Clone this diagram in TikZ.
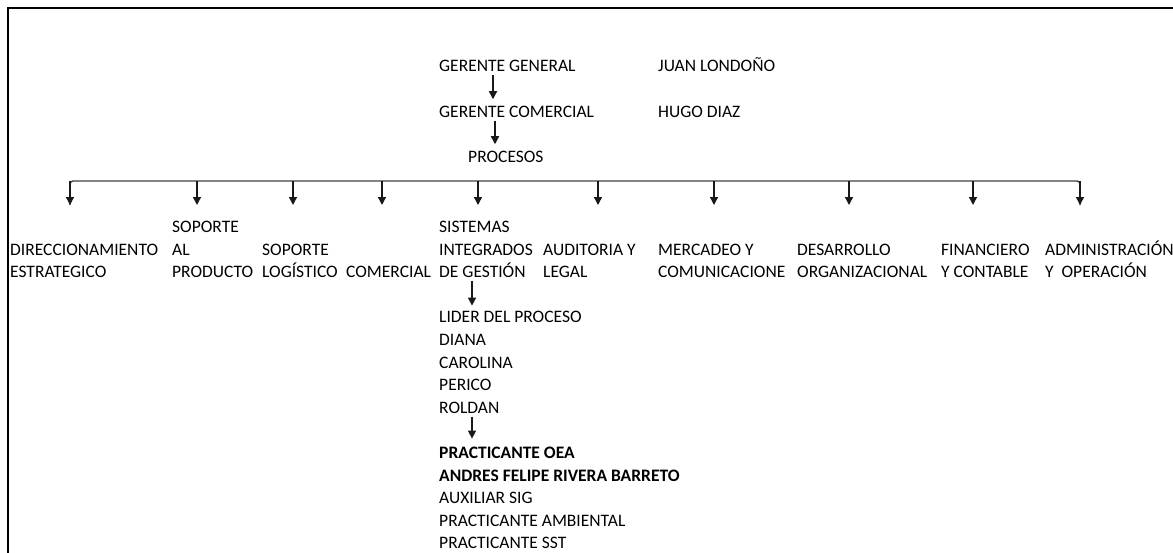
\documentclass[tikz,border=0pt]{standalone}
\usepackage{fontspec}
\setmainfont{Carlito}
\usetikzlibrary{arrows.meta}
\begin{document}
\begin{tikzpicture}[x=1pt,y=-1pt,
  lbl/.style={anchor=base west, inner xsep=0pt, inner ysep=3pt,
    font=\fontsize{17.5}{21}\selectfont, text=black},
  boldlbl/.style={lbl, font=\fontsize{17.5}{21}\selectfont\bfseries},
  arr/.style={draw=black!90, line width=1.4pt, -{Triangle[length=8pt,width=8pt]}},
  barline/.style={draw=black!75, line width=1.4pt},
  frame/.style={draw=black, line width=2.2pt}]
\useasboundingbox (0,0) rectangle (1173,552);
\draw[frame] (8,560) -- (8,8) -- (1180,8);

% top chain
\node[lbl] (gg) at (439,71.7) {GERENTE GENERAL};
\node[lbl] (jl) at (658,71.7) {JUAN LONDOÑO};
\node[lbl] (gc) at (439,117.3) {GERENTE COMERCIAL};
\node[lbl] (hd) at (658,117.3) {HUGO DIAZ};
\node[lbl] (pr) at (468,162.3) {PROCESOS};
\coordinate (v1) at (493,0);
\coordinate (v2) at (495,0);
\draw[arr, shorten >=3.5pt] (gg.south -| v1) -- (gc.north -| v1);
\draw[arr, shorten >=3.5pt] (gc.south -| v2) -- (pr.north -| v2);

% bar and arrows
\coordinate (b1) at (70,181);  \coordinate (e1) at (70,205);
\coordinate (b2) at (197,181); \coordinate (e2) at (197,205);
\coordinate (b3) at (293,181); \coordinate (e3) at (293,205);
\coordinate (b4) at (382,181); \coordinate (e4) at (382,205);
\coordinate (b5) at (478,181); \coordinate (e5) at (478,205);
\coordinate (b6) at (598,181); \coordinate (e6) at (598,205);
\coordinate (b7) at (714,181); \coordinate (e7) at (714,205);
\coordinate (b8) at (849,181); \coordinate (e8) at (849,205);
\coordinate (b9) at (973,181); \coordinate (e9) at (973,205);
\coordinate (b10) at (1080,181); \coordinate (e10) at (1080,205);
\draw[barline, rounded corners=3pt] (e1) |- (b10) -- (e10);
\foreach \i in {1,...,10} { \draw[arr] (b\i) -- (e\i); }

% columns
\node[lbl] (c1a) at (10,255) {DIRECCIONAMIENTO};
\node[lbl] (c1b) at (10,277.5) {ESTRATEGICO};
\node[lbl] (c2a) at (172,232.5) {SOPORTE};
\node[lbl] (c2b) at (172,255) {AL};
\node[lbl] (c2c) at (172,277.5) {PRODUCTO};
\node[lbl] (c3a) at (262,255) {SOPORTE};
\node[lbl] (c3b) at (262,277.5) {LOGÍSTICO};
\node[lbl] (c4a) at (346,277.5) {COMERCIAL};
\node[lbl] (c5a) at (439,232.5) {SISTEMAS};
\node[lbl] (c5b) at (439,255) {INTEGRADOS};
\node[lbl] (c5c) at (439,277.5) {DE GESTIÓN};
\node[lbl] (c6a) at (543,255) {AUDITORIA Y};
\node[lbl] (c6b) at (543,277.5) {LEGAL};
\node[lbl] (c7a) at (658,255) {MERCADEO Y};
\node[lbl] (c7b) at (658,277.5) {COMUNICACIONE};
\node[lbl] (c8a) at (797,255) {DESARROLLO};
\node[lbl] (c8b) at (797,277.5) {ORGANIZACIONAL};
\node[lbl] (c9a) at (941,255) {FINANCIERO};
\node[lbl] (c9b) at (941,277.5) {Y CONTABLE};
\node[lbl] (c10a) at (1045,255) {ADMINISTRACIÓN};
\node[lbl] (c10b) at (1045,277.5) {Y\ \ OPERACIÓN};

% SIG list
\node[lbl] (l1) at (439,322.7) {LIDER DEL PROCESO};
\node[lbl] (l2) at (439,345.3) {DIANA};
\node[lbl] (l3) at (439,368) {CAROLINA};
\node[lbl] (l4) at (439,390.7) {PERICO};
\node[lbl] (l5) at (439,413.3) {ROLDAN};
\node[boldlbl] (p1) at (439,458.3) {PRACTICANTE OEA};
\node[boldlbl] (p2) at (439,481) {ANDRES FELIPE RIVERA BARRETO};
\node[lbl] (p3) at (439,503.5) {AUXILIAR SIG};
\node[lbl] (p4) at (439,526) {PRACTICANTE AMBIENTAL};
\node[lbl] (p5) at (439,548.7) {PRACTICANTE SST};
\coordinate (v3) at (472,0);
\draw[arr, shorten >=2.5pt] (c5c.south -| v3) -- (l1.north -| v3);
\draw[arr, shorten >=5pt] (l5.south -| v3) -- (p1.north -| v3);
\end{tikzpicture}
\end{document}
